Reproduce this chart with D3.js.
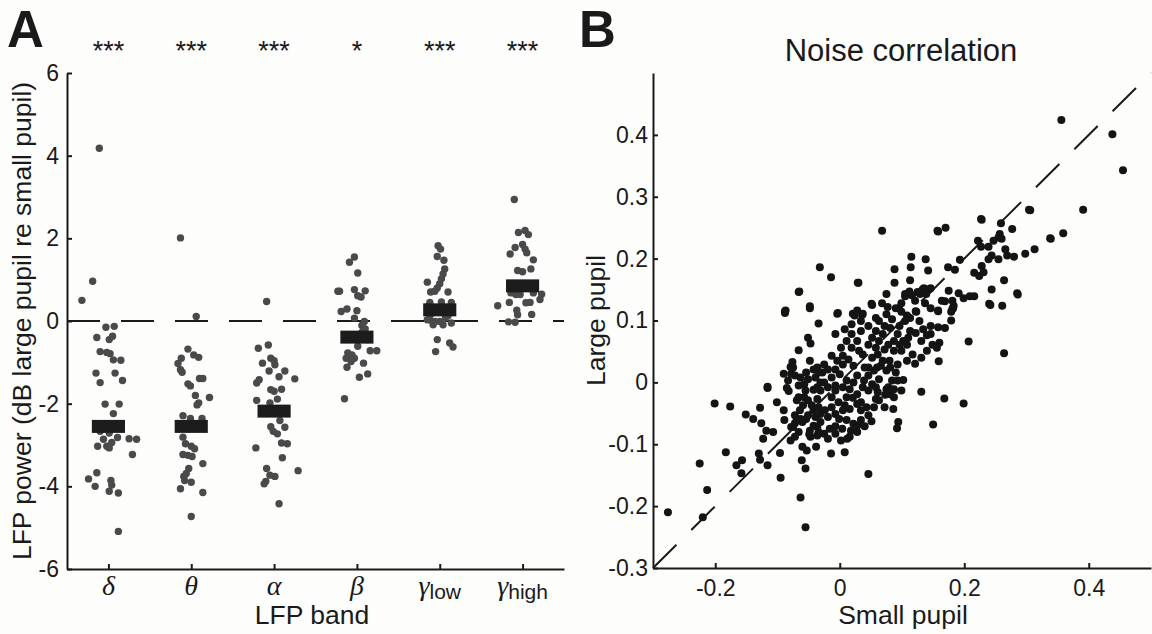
<!DOCTYPE html>
<html>
<head>
<meta charset="utf-8">
<script src="https://cdn.jsdelivr.net/npm/d3@7"></script>
<style>
    body { margin: 0; background: #fdfdfc; }
    text { font-family: "Liberation Sans", Arial, sans-serif; fill: #1a1a1a; }
    .axis path, .axis line { stroke: #1a1a1a; stroke-width: 2; }
</style>
</head>
<body>
<div id="fig"></div>
<script>
/////// PANEL A DATA ////////
// each point: [x jitter in band units, dB value]
var bands = ['\u03b4', '\u03b8', '\u03b1', '\u03b2', '\u03b3', '\u03b3'];
var bandSubs = ['', '', '', '', 'low', 'high'];
var stars = ['***', '***', '***', '*', '***', '***'];
var bandMeans = [-2.55, -2.55, -2.18, -0.39, 0.27, 0.85];

var deltaPts = [[-0.11,4.18],[-0.19,0.96],[-0.32,0.50],[-0.03,-0.15],[0.07,-0.13],[-0.14,-0.40],
    [0.01,-0.45],[0.05,-0.37],[-0.10,-0.74],[-0.02,-0.76],[0.02,-0.79],[0.06,-0.94],[0.15,-0.95],
    [-0.15,-1.26],[0.08,-1.26],[-0.10,-1.49],[0.17,-1.44],[-0.04,-2.01],[0.13,-2.01],[0.06,-2.24],
    [-0.10,-2.67],[0.01,-2.71],[0.11,-2.82],[0.25,-2.85],[0.34,-2.86],[-0.06,-2.86],[0.04,-2.94],
    [-0.13,-3.03],[-0.02,-3.03],[0.01,-3.07],[0.29,-3.23],[-0.14,-3.67],[-0.24,-3.82],[0.03,-3.86],
    [0.04,-3.97],[-0.16,-4.00],[0.01,-4.12],[0.12,-4.16],[0.12,-5.09]];
var thetaPts = [[-0.13,2.01],[0.06,0.11],[-0.04,-0.68],[0.03,-0.82],[0.09,-0.88],[-0.12,-0.90],
    [-0.16,-1.03],[-0.13,-1.18],[-0.11,-1.24],[0.10,-1.39],[0.14,-1.39],[-0.04,-1.52],[-0.01,-1.57],
    [0.05,-1.80],[0.22,-1.85],[0.09,-1.98],[0.07,-2.03],[-0.10,-2.29],[-0.01,-2.36],[0.13,-2.36],
    [-0.10,-2.81],[-0.07,-2.97],[0.00,-3.03],[0.04,-3.09],[-0.10,-3.23],[-0.04,-3.25],[0.01,-3.28],
    [0.14,-3.45],[-0.03,-3.57],[-0.06,-3.69],[-0.09,-3.76],[-0.08,-3.86],[0.00,-3.90],[-0.13,-4.06],
    [0.14,-4.15],[0.00,-4.73]];
var alphaPts = [[-0.09,0.47],[-0.07,-0.58],[-0.19,-0.66],[-0.04,-0.90],[-0.14,-1.02],[0.00,-0.96],
    [0.01,-1.06],[-0.06,-1.21],[0.13,-1.21],[0.06,-1.35],[0.25,-1.40],[-0.18,-1.42],[-0.21,-1.50],
    [-0.04,-1.66],[0.00,-1.70],[0.09,-1.65],[-0.21,-1.92],[-0.05,-1.98],[0.04,-1.89],[0.07,-2.41],
    [-0.04,-2.56],[-0.01,-2.67],[0.13,-2.57],[0.04,-2.73],[0.09,-2.95],[0.16,-2.97],[-0.22,-3.07],
    [0.10,-3.31],[-0.09,-3.57],[0.29,-3.62],[0.01,-3.76],[-0.05,-3.73],[-0.10,-3.88],[-0.12,-3.94],
    [0.06,-4.42]];
var betaPts = [[-0.03,1.55],[-0.09,1.42],[0.01,1.16],[-0.23,0.72],[-0.21,0.72],[-0.03,0.76],
    [0.10,0.73],[0.01,0.61],[0.05,0.58],[-0.19,0.23],[-0.12,0.29],[0.00,0.25],[-0.03,0.07],
    [0.09,-0.01],[0.06,-0.11],[0.10,-0.19],[-0.09,-0.33],[0.06,-0.28],[0.13,-0.45],[0.01,-0.61],
    [0.16,-0.72],[0.24,-0.72],[-0.11,-0.77],[-0.06,-0.82],[-0.13,-0.90],[-0.03,-0.90],[-0.07,-0.98],
    [0.08,-1.02],[-0.12,-1.12],[0.13,-1.28],[0.03,-1.36],[-0.15,-1.88]];
var gLowPts = [[-0.02,1.82],[0.01,1.74],[-0.03,1.56],[0.05,1.47],[0.06,1.26],[0.04,1.14],
    [0.02,1.02],[-0.15,0.94],[0.00,0.90],[-0.03,0.80],[-0.11,0.70],[0.10,0.70],[-0.06,0.72],
    [-0.12,0.45],[0.02,0.46],[0.14,0.45],[-0.10,0.18],[0.10,0.13],[-0.14,0.35],[0.07,0.08],
    [-0.12,0.03],[-0.06,-0.01],[0.00,-0.01],[-0.08,-0.09],[0.04,-0.09],[0.14,-0.05],[-0.15,0.03],
    [-0.03,-0.45],[0.12,-0.53],[0.16,-0.63],[-0.05,-0.74]];
var gHighPts = [[-0.10,2.94],[-0.05,2.14],[0.03,2.19],[0.07,2.09],[0.00,1.85],[0.03,1.74],
    [-0.09,1.78],[-0.15,1.62],[0.05,1.65],[0.13,1.48],[-0.06,1.22],[0.00,1.19],[0.10,1.26],
    [0.07,0.90],[-0.10,0.80],[-0.14,0.68],[-0.08,0.64],[-0.03,0.64],[0.13,0.68],[0.23,0.65],
    [0.21,0.52],[-0.30,0.37],[-0.16,0.45],[0.04,0.44],[0.09,0.45],[-0.07,0.26],[-0.06,0.15],
    [0.11,0.16],[-0.17,-0.02],[-0.09,-0.03]];
var bandPts = [deltaPts, thetaPts, alphaPts, betaPts, gLowPts, gHighPts];
var yTicksA = [-6, -4, -2, 0, 2, 4, 6];

/////// PANEL B DATA ////////
// [small pupil, large pupil]
var noiseCorr = [
    [0.356,0.424],[0.438,0.401],[0.455,0.343],[0.391,0.279],[0.306,0.278],[0.359,0.241],[0.339,0.232],
    [0.313,0.215],[0.298,0.208],[0.277,0.248],[0.259,0.257],[0.228,0.263],[0.170,0.250],[0.158,0.244],
    [0.068,0.245],[0.257,0.240],[0.255,0.234],[0.260,0.232],[0.247,0.229],[0.222,0.229],[0.239,0.219],
    [0.227,0.219],[0.266,0.215],[0.269,0.205],[0.280,0.203],[0.244,0.205],[0.255,0.199],[0.239,0.199],
    [0.193,0.198],[0.174,0.186],[0.185,0.182],[0.228,0.188],[0.231,0.178],[0.216,0.177],[0.224,0.172],
    [0.264,0.165],[0.244,0.150],[0.286,0.142],[0.242,0.125],[0.261,0.124],[0.216,0.139],[0.209,0.139],
    [0.199,0.136],[0.191,0.144],[0.175,0.148],[0.181,0.132],[0.164,0.132],[0.183,0.124],[0.158,0.116],
    [0.179,0.114],[0.181,0.119],[0.115,0.203],[0.138,0.199],[0.114,0.186],[0.142,0.181],[0.088,0.183],
    [0.113,0.165],[0.088,0.161],[0.135,0.152],[0.144,0.151],[0.139,0.143],[0.116,0.141],[0.105,0.139],
    [0.121,0.132],[0.129,0.143],[0.075,0.143],[0.068,0.128],[0.077,0.122],[0.051,0.127],[0.028,0.116],
    [0.024,0.108],[0.037,0.111],[0.029,0.161],[-0.003,0.112],[-0.014,0.170],[-0.032,0.186],[-0.048,0.123],
    [-0.066,0.146],[-0.088,0.115],[0.095,0.120],[0.099,0.114],[0.108,0.108],[0.123,0.114],
    [-0.088,0.112],[-0.048,0.120],[-0.004,0.111],[0.021,0.111],[0.036,0.109],[0.052,0.125],[-0.034,0.095],
    [-0.051,0.072],[-0.047,0.063],[-0.066,0.052],[-0.076,0.033],[-0.079,0.025],[-0.090,0.014],[-0.078,0.014],
    [-0.085,-0.009],[-0.116,-0.009],[-0.082,-0.014],[-0.101,-0.032],[-0.090,-0.045],[-0.201,-0.034],
    [-0.176,-0.039],[-0.151,-0.052],[-0.139,-0.059],[-0.128,-0.041],[-0.126,-0.066],[-0.118,-0.078],
    [-0.107,-0.080],[-0.123,-0.091],[-0.078,-0.072],[-0.072,-0.066],[-0.079,-0.094],[-0.183,-0.113],
    [-0.130,-0.115],[-0.096,-0.114],[-0.128,-0.125],[-0.166,-0.134],[-0.157,-0.126],[-0.116,-0.134],
    [-0.158,-0.147],[-0.225,-0.131],[-0.213,-0.174],[-0.095,-0.154],[-0.061,-0.126],[-0.055,-0.139],
    [-0.053,-0.110],[-0.049,-0.084],[-0.047,-0.088],[-0.038,-0.104],[-0.014,-0.115],[0.008,-0.113],
    [-0.063,-0.186],[-0.055,-0.234],[-0.276,-0.210],[-0.220,-0.218],[0.046,-0.148],[0.131,-0.015],
    [0.150,-0.068],[0.168,-0.026],[0.199,-0.034],[0.207,0.066],[0.264,0.047],[0.102,0.004],[0.094,-0.064],
    [0.092,-0.074],[0.072,-0.040],[0.086,-0.043],[0.179,0.100],[0.159,0.034],[0.158,0.089],[0.146,0.091],
    [0.158,0.115],[0.169,0.131],[0.182,0.120],[0.140,0.076],[0.131,0.067],[0.140,0.051],[0.156,0.056],
    [0.121,0.030],[0.108,0.035],[0.093,0.029],[0.080,0.035],[0.075,0.019],[0.063,0.005],[0.084,0.003],
    [0.087,-0.011],[0.073,-0.020],[0.052,-0.003],[0.046,-0.013],[0.058,-0.027],[0.034,-0.032],[0.051,-0.063],
    [0.040,-0.071],[0.034,-0.061],[0.018,-0.078],[0.012,-0.091],[0.004,-0.075],[-0.007,-0.071],
    [-0.016,-0.075],[-0.036,-0.086],[0.005,-0.045],[0.016,-0.043],[0.021,-0.025],[-0.002,-0.032],
    [-0.013,-0.040],[-0.024,-0.045],[-0.031,-0.051],[-0.042,-0.045],[-0.059,-0.037],[-0.051,-0.029],
    [-0.036,-0.027],[-0.013,-0.024],[-0.042,-0.012],[-0.055,-0.013],[-0.066,-0.024],[-0.064,-0.045],
    [-0.072,-0.053],[-0.063,-0.059],[-0.054,-0.059],[-0.042,-0.070],[-0.031,-0.064],[-0.019,-0.056],
    [-0.007,-0.005],[-0.019,-0.008],[0.000,0.013],[-0.007,0.021],[-0.013,0.008],[0.005,0.029],[0.014,0.037],
    [0.022,0.027],[0.028,0.011],[0.039,0.003],[0.046,0.024],[0.031,0.051],[0.037,0.045],[0.046,0.061],
    [0.058,0.056],[0.072,0.053],[0.063,0.067],[0.069,0.078],[0.081,0.088],[0.093,0.078],[0.105,0.099],
    [0.113,0.104],[0.122,0.115],[0.113,0.083],[0.128,0.099],[0.108,0.061],[0.099,0.051],[0.087,0.051],
    [0.019,0.094],[0.019,0.078],[0.008,0.086],[-0.007,0.078],[0.002,0.056],[-0.013,0.043],[-0.025,0.029],
    [-0.036,0.024],[-0.028,0.016],[-0.039,0.008],[-0.051,0.005],[-0.063,0.008],[-0.075,0.024],[-0.048,0.035],
    [-0.025,0.000],[-0.031,-0.013],[-0.007,-0.013],[0.005,-0.008],[0.011,0.003],[-0.036,-0.008],[0.040,0.024],
    [0.052,0.072],[0.034,0.083],[0.063,0.099],[0.075,0.110],[0.090,0.120],[0.099,0.128],[0.137,0.128],
    [0.146,0.120],[0.169,0.088],[0.160,0.064],[0.058,0.083],[0.102,0.067],[0.117,0.045],[0.131,0.040],
    [0.069,0.035],[0.060,0.024],[0.016,-0.011],[0.028,-0.019],[0.011,-0.024],[0.058,-0.008],[0.075,-0.011],
    [0.081,-0.019],[0.034,-0.045],[0.046,-0.053],[0.011,-0.061],[-0.001,-0.059],[0.022,-0.067],
    [0.028,-0.080],[-0.007,-0.083],[-0.075,-0.072],[-0.089,-0.061],[-0.066,-0.080],[-0.072,-0.088],
    [-0.036,-0.072],[-0.025,-0.083],[-0.060,-0.104],[-0.065,0.147],[-0.087,0.116],[0.030,0.161],
    [-0.116,-0.007],[0.157,0.245],[0.227,0.264],[0.304,0.279],[0.338,0.233],[0.285,0.144],[0.240,0.127],
    [-0.069,-0.029],[-0.057,-0.024],[-0.045,-0.037],[-0.034,-0.040],[-0.039,-0.056],[-0.051,-0.053],
    [-0.060,-0.064],[-0.069,-0.061],[-0.048,-0.078],[-0.034,-0.080],[-0.019,-0.091],[0.002,-0.094],
    [0.016,-0.088],[0.028,-0.070],[-0.007,-0.051],[0.008,-0.037],[0.028,-0.035],[0.043,-0.040],
    [0.055,-0.040],[0.061,-0.016],[0.037,-0.008],[0.022,0.000],[0.046,0.011],[0.055,0.019],[0.066,0.027],
    [0.081,0.024],[0.090,0.016],[0.093,0.003],[0.078,-0.008],[0.099,-0.013],[0.087,-0.024],[0.063,-0.029],
    [0.052,0.040],[0.061,0.045],[0.078,0.061],[0.087,0.067],[0.096,0.061],[0.110,0.072],[0.122,0.080],
    [0.134,0.086],[0.146,0.078],[0.149,0.061],[0.096,0.091],[0.084,0.102],[0.072,0.091],[0.058,0.104],
    [0.046,0.091],[0.034,0.099],[0.028,0.067],[0.019,0.056],[0.011,0.067],[0.005,0.043],[-0.004,0.035],
    [-0.019,0.021],[-0.034,0.016],[-0.042,0.021],[-0.054,0.016],[-0.066,-0.005],[-0.083,0.003],
    [-0.072,0.011],[-0.057,-0.003],[-0.031,0.000],[0.105,0.143],[0.112,0.147],[0.125,0.146],
    [0.133,0.150],[0.146,0.152]
];
var xTicksB = [-0.2, 0, 0.2, 0.4];
var yTicksB = [-0.3, -0.2, -0.1, 0, 0.1, 0.2, 0.3, 0.4];

var w = 1152;
var h = 634;

var svg = d3.select('#fig')
            .append('svg')
            .attr('width', w)
            .attr('height', h);

/////// PANEL A ////////
var xA = d3.scaleLinear().domain([0.5, 6.5]).range([67, 564]);
var yA = d3.scaleLinear().domain([-6, 6]).range([569, 73]);

svg.append('line')
    .attr('x1', xA(0.5)).attr('x2', xA(6.5))
    .attr('y1', yA(0)).attr('y2', yA(0))
    .attr('stroke', '#1a1a1a')
    .attr('stroke-width', 2)
    .attr('stroke-dasharray', '33,21');

bandPts.forEach(function(pts, i) {
    svg.append('g')
        .selectAll('circle')
        .data(pts)
        .enter()
        .append('circle')
        .attr('cx', function(d) { return xA(i + 1 + d[0]); })
        .attr('cy', function(d) { return yA(d[1]); })
        .attr('r', 3.7)
        .attr('fill', '#4a4a4a');
});

svg.append('g')
    .selectAll('rect')
    .data(bandMeans)
    .enter()
    .append('rect')
    .attr('x', function(d, i) { return xA(i + 1 - 0.2); })
    .attr('width', function(d, i) { return xA(i + 1 + 0.2) - xA(i + 1 - 0.2); })
    .attr('y', function(d) { return yA(d) - 6.5; })
    .attr('height', 13)
    .attr('fill', '#1c1c1c');

svg.append('g')
    .attr('class', 'y axis')
    .attr('transform', 'translate(' + xA(0.5) + ',0)')
    .call(d3.axisLeft(yA).tickValues(yTicksA).tickSizeInner(-5).tickSizeOuter(0)
            .tickPadding(8).tickFormat(function(d) { return String(d); }));

svg.append('g')
    .attr('class', 'x axis')
    .attr('transform', 'translate(0,' + yA(-6) + ')')
    .call(d3.axisBottom(xA).tickValues([1, 2, 3, 4, 5, 6]).tickSizeInner(-5)
            .tickSizeOuter(0).tickFormat(''));

var bandLbl = svg.append('g')
    .selectAll('text')
    .data(bands)
    .enter()
    .append('text')
    .attr('x', function(d, i) { return xA(i + 1); })
    .attr('y', 595)
    .attr('text-anchor', 'middle');
bandLbl.append('tspan')
    .style('font-family', '"Liberation Serif", "Times New Roman", serif')
    .style('font-style', 'italic')
    .style('font-size', '28px')
    .text(function(d) { return d; });
bandLbl.append('tspan')
    .attr('dy', 4)
    .style('font-size', '21px')
    .text(function(d, i) { return bandSubs[i]; });

svg.append('g')
    .selectAll('text')
    .data(stars)
    .enter()
    .append('text')
    .attr('x', function(d, i) { return xA(i + 1); })
    .attr('y', 60)
    .attr('text-anchor', 'middle')
    .style('font-size', '27px')
    .text(function(d) { return d; });

svg.append('text')
    .attr('x', 7).attr('y', 47)
    .style('font-size', '51px').style('font-weight', 'bold')
    .text('A');

svg.append('text')
    .attr('transform', 'translate(31,' + yA(0) + ') rotate(-90)')
    .attr('text-anchor', 'middle')
    .style('font-size', '26.5px')
    .text('LFP power (dB large pupil re small pupil)');

svg.append('text')
    .attr('x', 312).attr('y', 624)
    .attr('text-anchor', 'middle')
    .style('font-size', '26.5px')
    .text('LFP band');

/////// PANEL B ////////
var xB = d3.scaleLinear().domain([-0.3, 0.5]).range([653, 1151]);
var yB = d3.scaleLinear().domain([-0.3, 0.5]).range([568, 73]);

svg.append('line')
    .attr('x1', xB(-0.3)).attr('y1', yB(-0.3))
    .attr('x2', xB(0.5)).attr('y2', yB(0.5))
    .attr('stroke', '#1a1a1a')
    .attr('stroke-width', 2)
    .attr('stroke-dasharray', '33,21');

svg.append('g')
    .selectAll('circle')
    .data(noiseCorr)
    .enter()
    .append('circle')
    .attr('cx', function(d) { return xB(d[0]); })
    .attr('cy', function(d) { return yB(d[1]); })
    .attr('r', 4)
    .attr('fill', '#141414');

svg.append('g')
    .attr('class', 'y axis')
    .attr('transform', 'translate(' + xB(-0.3) + ',0)')
    .call(d3.axisLeft(yB).tickValues(yTicksB).tickSizeInner(-5).tickSizeOuter(0)
            .tickPadding(5).tickFormat(function(d) { return String(d); }));

svg.append('g')
    .attr('class', 'x axis')
    .attr('transform', 'translate(0,' + yB(-0.3) + ')')
    .call(d3.axisBottom(xB).tickValues(xTicksB).tickSizeInner(-5).tickSizeOuter(0)
            .tickPadding(12).tickFormat(function(d) { return String(d); }));

svg.selectAll('.axis text').style('font-size', '23px').attr('fill', '#1a1a1a');

svg.append('text')
    .attr('x', 579).attr('y', 47)
    .style('font-size', '51px').style('font-weight', 'bold')
    .text('B');

svg.append('text')
    .attr('x', 901).attr('y', 61)
    .attr('text-anchor', 'middle')
    .style('font-size', '31px')
    .text('Noise correlation');

svg.append('text')
    .attr('transform', 'translate(605,' + (yB(-0.3) + yB(0.5)) / 2 + ') rotate(-90)')
    .attr('text-anchor', 'middle')
    .style('font-size', '26.5px')
    .text('Large pupil');

svg.append('text')
    .attr('x', 903).attr('y', 624)
    .attr('text-anchor', 'middle')
    .style('font-size', '26.5px')
    .text('Small pupil');
</script>
</body>
</html>
